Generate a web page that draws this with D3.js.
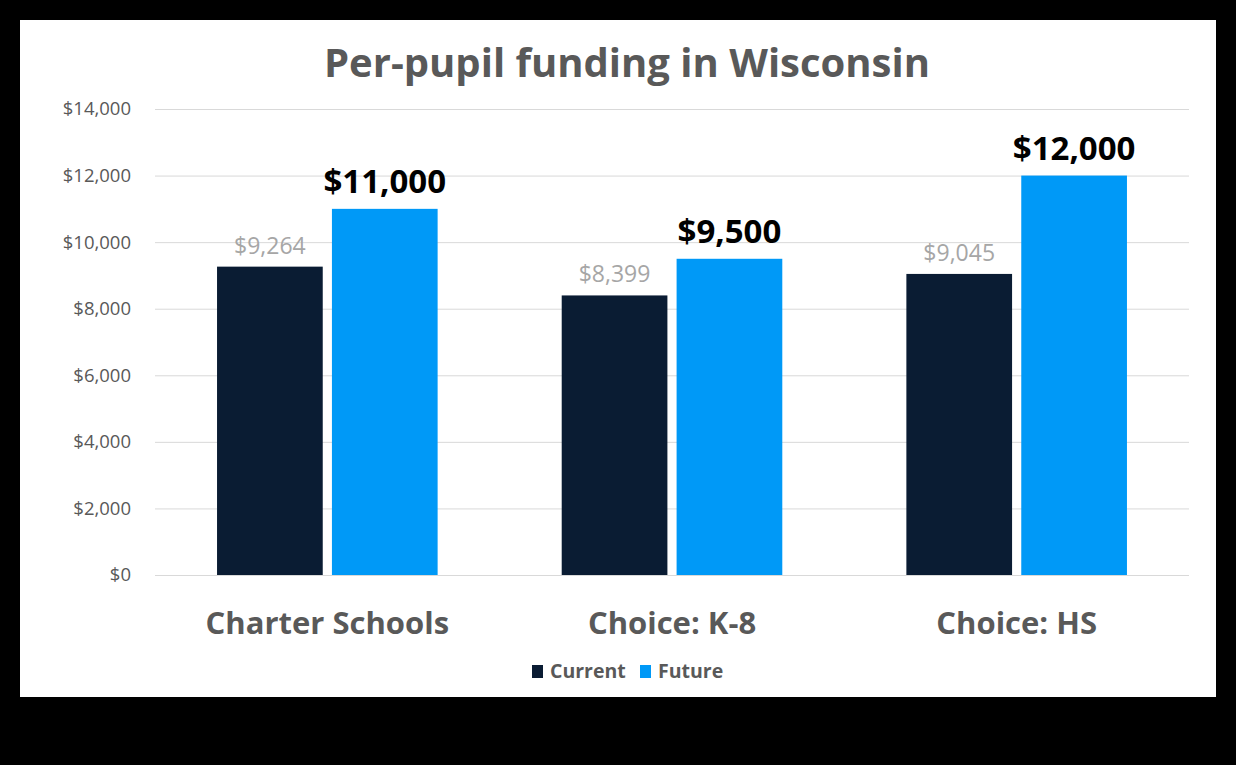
<!DOCTYPE html>
<html>
<head>
<meta charset="utf-8">
<script src="https://cdn.jsdelivr.net/npm/d3@7"></script>
<style>
  body { margin: 0; background: #000; }
  svg { display: block; }
  text { font-family: "Open Sans", "Noto Sans", sans-serif; }
</style>
</head>
<body>
<script>
// chart data
const categories = ["Charter Schools", "Choice: K-8", "Choice: HS"];
const seriesNames = ["Current", "Future"];
const currentValues = [9264, 8399, 9045];
const futureValues = [11000, 9500, 12000];
const yTicks = [0, 2000, 4000, 6000, 8000, 10000, 12000, 14000];

const colors = { Current: "#0a1c33", Future: "#0099f7" };

const W = 1236, H = 765;
const margin = { top: 109, right: 47, bottom: 190, left: 155 };

const svg = d3.select("body").append("svg")
  .attr("width", W)
  .attr("height", H);

// white chart panel on black background
svg.append("rect")
  .attr("x", 20).attr("y", 20)
  .attr("width", 1196).attr("height", 677)
  .attr("fill", "#fff");

const x0 = d3.scaleBand()
  .domain(categories)
  .range([margin.left, W - margin.right])
  .paddingInner(0.36)
  .paddingOuter(0.18);

const x1 = d3.scaleBand()
  .domain(seriesNames)
  .range([0, x0.bandwidth()])
  .paddingInner(0.08);

const y = d3.scaleLinear()
  .domain([0, 14000])
  .range([H - margin.bottom, margin.top]);

// gridlines + y labels
const yAxis = svg.append("g")
  .attr("transform", `translate(${margin.left},0)`)
  .call(d3.axisLeft(y).tickValues(yTicks)
    .tickSize(-(W - margin.left - margin.right))
    .tickPadding(24)
    .tickFormat(d => "$" + d3.format(",")(d)));
yAxis.select(".domain").remove();
yAxis.selectAll(".tick line").attr("stroke", "#d9d9d9").attr("stroke-width", 1);
yAxis.selectAll(".tick text")
  .attr("fill", "#595959")
  .style("font-size", "18.5px");

// category labels
const xAxis = svg.append("g")
  .attr("transform", `translate(0,${H - margin.bottom})`)
  .call(d3.axisBottom(x0).tickSize(0).tickPadding(37));
xAxis.select(".domain").remove();
xAxis.selectAll(".tick text")
  .attr("fill", "#595959")
  .style("font-size", "31px")
  .style("font-weight", "bold");

// bars
const rows = categories.map((c, i) => ({
  cat: c,
  vals: [
    { key: "Current", value: currentValues[i] },
    { key: "Future", value: futureValues[i] }
  ]
}));

const groups = svg.append("g").selectAll("g")
  .data(rows)
  .join("g")
  .attr("transform", d => `translate(${x0(d.cat)},0)`);

groups.selectAll("rect")
  .data(d => d.vals)
  .join("rect")
  .attr("x", d => x1(d.key))
  .attr("y", d => y(d.value))
  .attr("width", x1.bandwidth())
  .attr("height", d => y(0) - y(d.value))
  .attr("fill", d => colors[d.key]);

groups.selectAll("text")
  .data(d => d.vals)
  .join("text")
  .attr("x", d => x1(d.key) + x1.bandwidth() / 2)
  .attr("y", d => y(d.value) - (d.key === "Current" ? 13 : 16))
  .attr("text-anchor", "middle")
  .attr("fill", d => d.key === "Current" ? "#a6a6a6" : "#000")
  .style("font-size", d => d.key === "Current" ? "23px" : "33px")
  .style("font-weight", d => d.key === "Current" ? "normal" : "bold")
  .text(d => "$" + d3.format(",")(d.value));

// title
svg.append("text")
  .attr("x", 627)
  .attr("y", 77)
  .attr("text-anchor", "middle")
  .attr("fill", "#595959")
  .style("font-size", "40px")
  .style("font-weight", "bold")
  .text("Per-pupil funding in Wisconsin");

// legend
const legend = svg.append("g").attr("transform", "translate(532,671)");
const legendX = [0, 108];
seriesNames.forEach((s, i) => {
  const g = legend.append("g").attr("transform", `translate(${legendX[i]},0)`);
  g.append("rect")
    .attr("x", 0).attr("y", -6)
    .attr("width", 11).attr("height", 13)
    .attr("fill", colors[s]);
  g.append("text")
    .attr("x", 18).attr("y", 7)
    .attr("fill", "#595959")
    .style("font-size", "19.5px")
    .style("font-weight", "bold")
    .text(s);
});
</script>
</body>
</html>
